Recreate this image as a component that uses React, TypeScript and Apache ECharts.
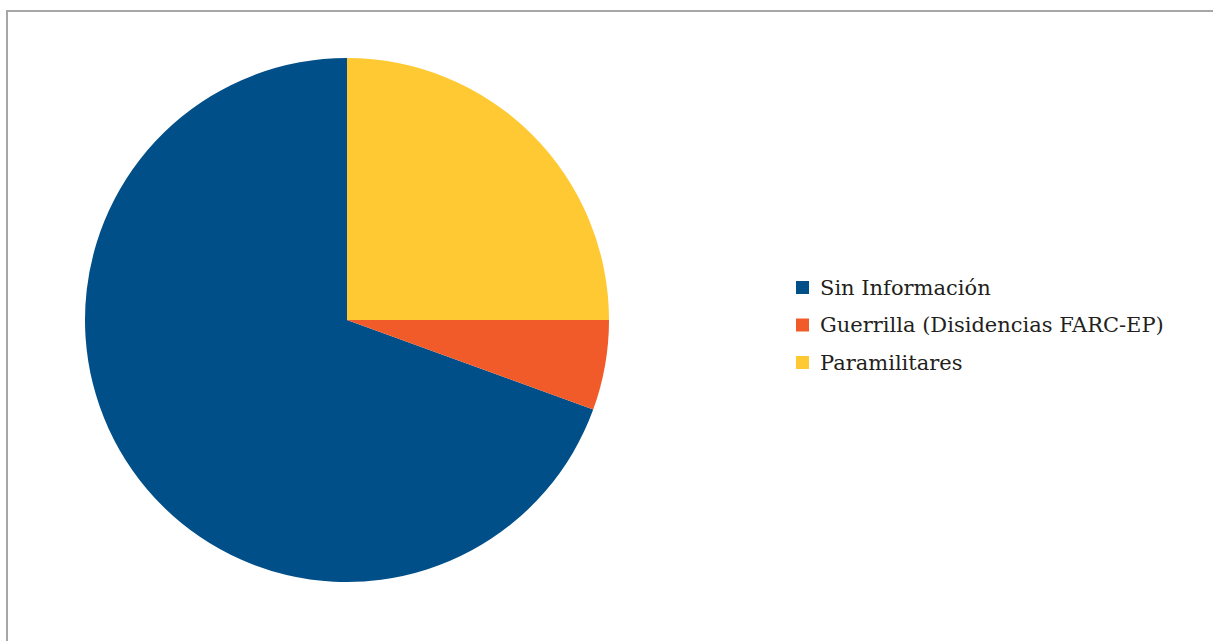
import React, { useEffect, useRef } from "react";
import * as echarts from "echarts";

const categories = ["Sin Información", "Guerrilla (Disidencias FARC-EP)", "Paramilitares"];
const values = [50, 4, 18];
const colors = ["#004f88", "#f15a29", "#ffc933"];

export default function App() {
  const ref = useRef<HTMLDivElement>(null);
  useEffect(() => {
    document.body.style.margin = "0";
    const chart = echarts.init(ref.current!, null, { renderer: "svg" });
    chart.setOption({
      animation: false,
      backgroundColor: "#ffffff",
      graphic: [
        {
          type: "rect",
          shape: { x: 7, y: 11, width: 1400, height: 800 },
          style: { fill: "none", stroke: "#a6a6a6", lineWidth: 2 },
          silent: true,
        },
      ],
      legend: {
        orient: "vertical",
        left: 796,
        top: 277,
        padding: 0,
        itemWidth: 13,
        itemHeight: 13,
        itemGap: 16.5,
        icon: "rect",
        selectedMode: false,
        data: categories,
        textStyle: {
          fontFamily: "DejaVu Serif",
          fontSize: 21,
          lineHeight: 20,
          color: "#231f20",
          padding: [0, 0, 0, 6],
        },
      },
      series: [
        {
          type: "pie",
          center: [347, 320],
          radius: 262,
          startAngle: 90,
          clockwise: false,
          label: { show: false },
          labelLine: { show: false },
          emphasis: { disabled: true },
          itemStyle: { borderWidth: 0 },
          data: categories.map((name, i) => ({
            name,
            value: values[i],
            itemStyle: { color: colors[i] },
          })),
        },
      ],
    });
    return () => chart.dispose();
  }, []);
  return (
    <div
      ref={ref}
      style={{ position: "fixed", left: 0, top: 0, width: 1213, height: 641 }}
    />
  );
}
